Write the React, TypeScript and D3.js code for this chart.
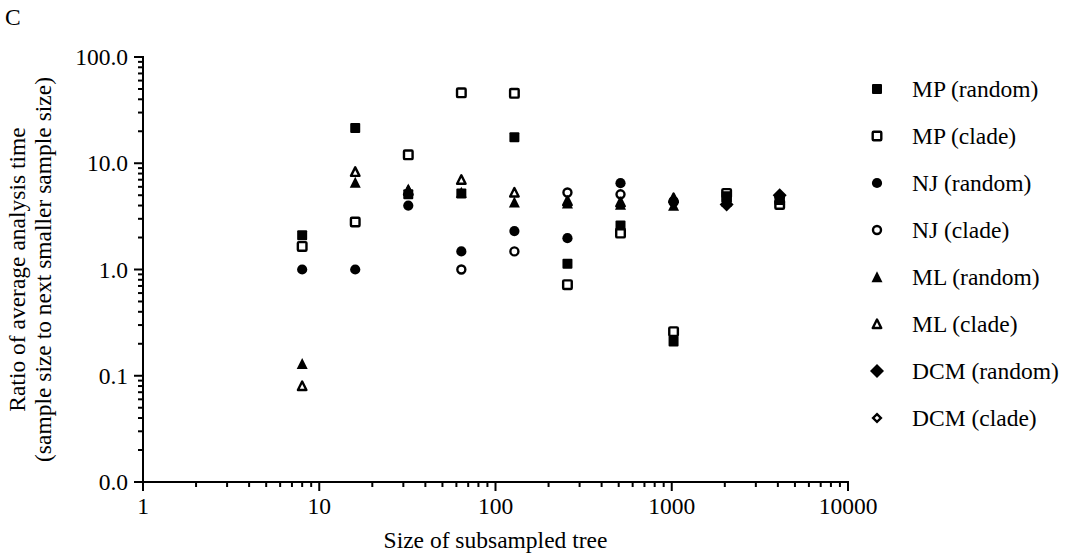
import React from "react";
import * as d3 from "d3";

const sizes = [8, 16, 32, 64, 128, 256, 512, 1024, 2048, 4096];

const mpRandom = [2.1, 21.5, 5.1, 5.2, 17.6, 1.13, 2.6, 0.21, 4.9, 4.5];
const mpClade = [1.65, 2.8, 12, 46, 45.5, 0.72, 2.2, 0.26, 5.2, 4.1];
const njRandom = [1.0, 1.0, 4.0, 1.48, 2.3, 1.97, 6.5, 4.3, 4.5, 4.7];
const njClade = [null, null, null, 1.0, 1.48, 5.3, 5.1, 4.4, 4.6, 4.8];
const mlRandom = [0.13, 6.6, 5.7, 5.3, 4.3, 4.2, 4.1, 4.0, 4.4, 4.6];
const mlClade = [0.08, 8.3, 5.5, 7.0, 5.3, 4.4, 4.3, 4.7, 4.5, 4.7];
const dcmRandom = [null, null, null, null, null, null, null, null, 4.1, 5.0];
const dcmClade = [null, null, null, null, null, null, null, null, 4.4, 4.8];

const seriesNames = [
  "MP (random)",
  "MP (clade)",
  "NJ (random)",
  "NJ (clade)",
  "ML (random)",
  "ML (clade)",
  "DCM (random)",
  "DCM (clade)",
];
const seriesValues = [mpRandom, mpClade, njRandom, njClade, mlRandom, mlClade, dcmRandom, dcmClade];
const seriesShapes = ["square", "square", "circle", "circle", "triangle", "triangle", "diamond", "diamond"];
const seriesFilled = [true, false, true, false, true, false, true, false];

const xTickValues = [1, 10, 100, 1000, 10000];
const xTickLabels = ["1", "10", "100", "1000", "10000"];
const yTickValues = [0.01, 0.1, 1, 10, 100];
const yTickLabels = ["0.0", "0.1", "1.0", "10.0", "100.0"];

const xTitle = "Size of subsampled tree";
const yTitle1 = "Ratio of average analysis time";
const yTitle2 = "(sample size to next smaller sample size)";
const panelLabel = "C";

const FONT = "'Liberation Serif', 'Times New Roman', serif";
const FS = 23.5;

function Marker({ shape, filled, x, y }: { shape: string; filled: boolean; x: number; y: number }) {
  const fill = filled ? "#000" : "none";
  const stroke = filled ? "none" : "#000";
  const sw = filled ? 0 : 2.4;
  if (shape === "square") {
    const s = filled ? 10 : 8.6;
    return <rect x={x - s / 2} y={y - s / 2} width={s} height={s} fill={fill} stroke={stroke} strokeWidth={sw} rx={1} />;
  }
  if (shape === "circle") {
    const r = filled ? 5.1 : 4;
    return <circle cx={x} cy={y} r={r} fill={fill} stroke={stroke} strokeWidth={sw} />;
  }
  if (shape === "triangle") {
    const h = filled ? 10.5 : 8;
    const w = filled ? 11 : 8.5;
    const p = `M${x},${y - h / 2 - 0.5} L${x + w / 2},${y + h / 2} L${x - w / 2},${y + h / 2} Z`;
    return <path d={p} fill={fill} stroke={stroke} strokeWidth={sw} strokeLinejoin="round" />;
  }
  const r = filled ? 7 : 3.9;
  const p = `M${x},${y - r} L${x + r},${y} L${x},${y + r} L${x - r},${y} Z`;
  return <path d={p} fill={fill} stroke={stroke} strokeWidth={sw} />;
}

export default function App() {
  const width = 1066;
  const height = 558;
  const left = 143;
  const right = 848;
  const top = 57;
  const bottom = 482;

  const x = d3.scaleLog().domain([1, 10000]).range([left, right]);
  const y = d3.scaleLog().domain([0.01, 100]).range([bottom, top]);

  const minorX: number[] = [];
  for (let e = 0; e < 4; e++) for (let k = 2; k <= 9; k++) minorX.push(k * Math.pow(10, e));
  const minorY: number[] = [];
  for (let e = -2; e < 2; e++) for (let k = 2; k <= 9; k++) minorY.push(k * Math.pow(10, e));

  const legendX = 877;
  const legendTextX = 912;
  const legendY0 = 89;
  const legendStep = 47;

  return (
    <svg width={width} height={height} style={{ position: "absolute", left: 0, top: 0, background: "#fff" }} fontFamily={FONT}>
      <rect x={0} y={0} width={width} height={height} fill="#fff" />
      <text x={5} y={25} fontSize={FS} fill="#000">{panelLabel}</text>

      <line x1={left} y1={top - 1} x2={left} y2={bottom + 1} stroke="#000" strokeWidth={2} />
      <line x1={left - 1} y1={bottom} x2={right + 1} y2={bottom} stroke="#000" strokeWidth={2} />

      {yTickValues.map((v, i) => (
        <g key={"yt" + i}>
          <line x1={left - 9} x2={left} y1={y(v)} y2={y(v)} stroke="#000" strokeWidth={2} />
          <text x={128} y={y(v)} dy="0.35em" textAnchor="end" fontSize={FS}>{yTickLabels[i]}</text>
        </g>
      ))}
      {minorY.map((v, i) => (
        <line key={"ym" + i} x1={left - 5} x2={left} y1={y(v)} y2={y(v)} stroke="#000" strokeWidth={2} />
      ))}

      {xTickValues.map((v, i) => (
        <g key={"xt" + i}>
          <line x1={x(v)} x2={x(v)} y1={bottom} y2={bottom + 9} stroke="#000" strokeWidth={2} />
          <text x={x(v)} y={514} textAnchor="middle" fontSize={FS}>{xTickLabels[i]}</text>
        </g>
      ))}
      {minorX.map((v, i) => (
        <line key={"xm" + i} x1={x(v)} x2={x(v)} y1={bottom} y2={bottom + 5} stroke="#000" strokeWidth={2} />
      ))}

      <text x={(left + right) / 2} y={548} textAnchor="middle" fontSize={FS}>{xTitle}</text>
      <text transform={`translate(25, ${(top + bottom) / 2}) rotate(-90)`} textAnchor="middle" fontSize={FS}>{yTitle1}</text>
      <text transform={`translate(51, ${(top + bottom) / 2}) rotate(-90)`} textAnchor="middle" fontSize={FS}>{yTitle2}</text>

      {seriesValues.map((vals, si) => (
        <g key={"s" + si}>
          {vals.map((v, i) =>
            v == null ? null : (
              <Marker key={i} shape={seriesShapes[si]} filled={seriesFilled[si]} x={x(sizes[i])} y={y(v)} />
            )
          )}
        </g>
      ))}

      {seriesNames.map((name, si) => (
        <g key={"l" + si}>
          <Marker shape={seriesShapes[si]} filled={seriesFilled[si]} x={legendX} y={legendY0 + si * legendStep} />
          <text x={legendTextX} y={legendY0 + si * legendStep} dy="0.32em" fontSize={FS}>{name}</text>
        </g>
      ))}
    </svg>
  );
}
